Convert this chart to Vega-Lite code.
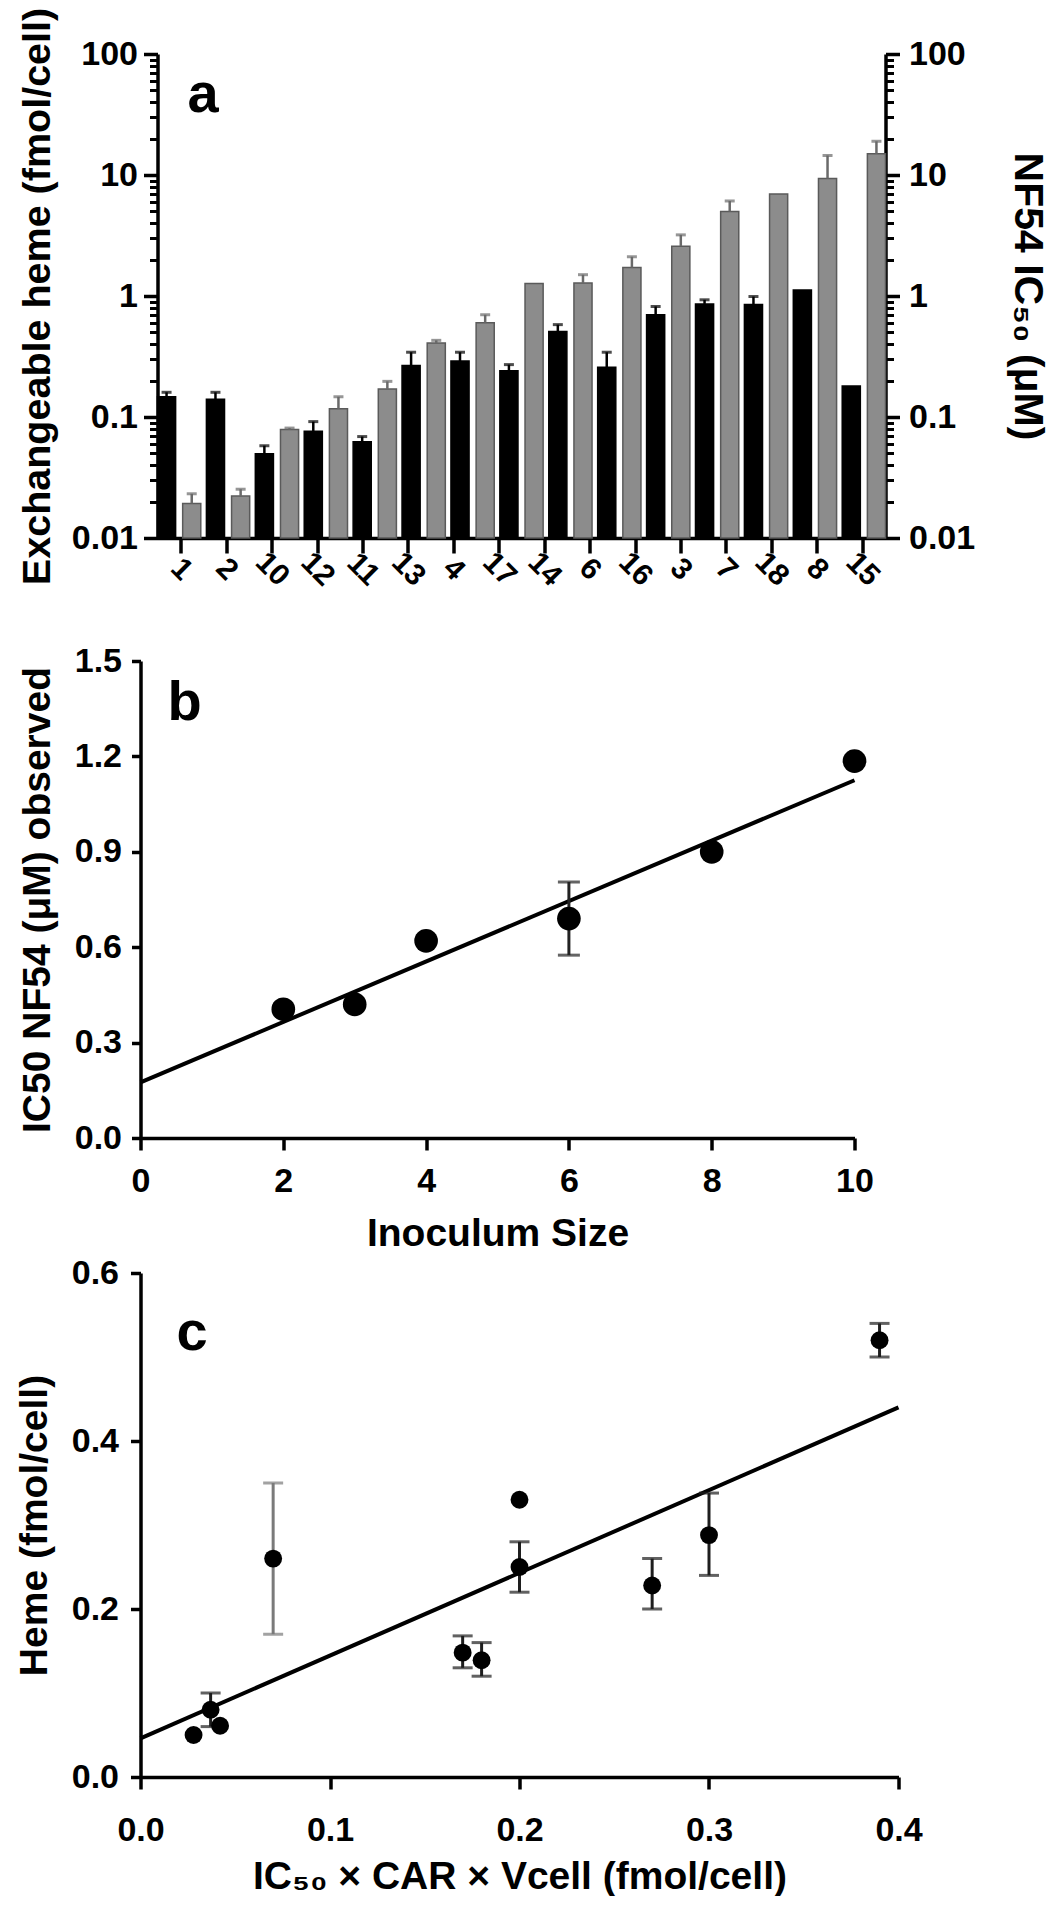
{
  "$schema": "https://vega.github.io/schema/vega-lite/v6.json",
  "background": "white",
  "padding": {"left": 14.5, "top": 7, "right": 0, "bottom": 0},
  "config": {
    "font": "Liberation Sans",
    "view": {"stroke": null},
    "axis": {
      "grid": false,
      "domainColor": "#000000",
      "domainWidth": 3.5,
      "tickColor": "#000000",
      "tickWidth": 3.5,
      "labelFont": "Liberation Sans",
      "labelFontWeight": "bold",
      "labelFontSize": 34,
      "labelColor": "#000000",
      "titleFont": "Liberation Sans",
      "titleFontWeight": "bold",
      "titleFontSize": 39,
      "titleColor": "#000000",
      "labelOverlap": false,
      "labelFlush": false,
      "labelBound": false
    },
    "title": {"font": "Liberation Sans", "fontWeight": "bold", "fontSize": 56, "color": "#000000", "anchor": "start", "frame": "group", "baseline": "alphabetic"}
  },
  "datasets": {
    "bars": [
      {"pair": 1, "s": "heme", "v": 0.147, "up": 0.16},
      {"pair": 1, "s": "ic50", "v": 0.0193, "up": 0.0232},
      {"pair": 2, "s": "heme", "v": 0.14, "up": 0.16},
      {"pair": 2, "s": "ic50", "v": 0.0222, "up": 0.0253},
      {"pair": 3, "s": "heme", "v": 0.0498, "up": 0.058},
      {"pair": 3, "s": "ic50", "v": 0.0789, "up": 0.081},
      {"pair": 4, "s": "heme", "v": 0.0763, "up": 0.0916},
      {"pair": 4, "s": "ic50", "v": 0.117, "up": 0.147},
      {"pair": 5, "s": "heme", "v": 0.0623, "up": 0.0689},
      {"pair": 5, "s": "ic50", "v": 0.17, "up": 0.197},
      {"pair": 6, "s": "heme", "v": 0.267, "up": 0.343},
      {"pair": 6, "s": "ic50", "v": 0.409, "up": 0.43},
      {"pair": 7, "s": "heme", "v": 0.29, "up": 0.343},
      {"pair": 7, "s": "ic50", "v": 0.601, "up": 0.7},
      {"pair": 8, "s": "heme", "v": 0.241, "up": 0.271},
      {"pair": 8, "s": "ic50", "v": 1.27, "up": null},
      {"pair": 9, "s": "heme", "v": 0.508, "up": 0.58},
      {"pair": 9, "s": "ic50", "v": 1.28, "up": 1.5},
      {"pair": 10, "s": "heme", "v": 0.258, "up": 0.343},
      {"pair": 10, "s": "ic50", "v": 1.72, "up": 2.11},
      {"pair": 11, "s": "heme", "v": 0.7, "up": 0.82},
      {"pair": 11, "s": "ic50", "v": 2.58, "up": 3.2},
      {"pair": 12, "s": "heme", "v": 0.86, "up": 0.93},
      {"pair": 12, "s": "ic50", "v": 5.0, "up": 6.1},
      {"pair": 13, "s": "heme", "v": 0.85, "up": 0.99},
      {"pair": 13, "s": "ic50", "v": 6.98, "up": null},
      {"pair": 14, "s": "heme", "v": 1.12, "up": null},
      {"pair": 14, "s": "ic50", "v": 9.35, "up": 14.5},
      {"pair": 15, "s": "heme", "v": 0.18, "up": null},
      {"pair": 15, "s": "ic50", "v": 15.0, "up": 19.0}
    ],
    "labs": [
      {"lab": "1"}, {"lab": "2"}, {"lab": "10"}, {"lab": "12"}, {"lab": "11"}, {"lab": "13"}, {"lab": "4"}, {"lab": "17"},
      {"lab": "14"}, {"lab": "6"}, {"lab": "16"}, {"lab": "3"}, {"lab": "7"}, {"lab": "18"}, {"lab": "8"}, {"lab": "15"}
    ],
    "inoc": [
      {"x": 2, "y": 0.405},
      {"x": 3, "y": 0.42},
      {"x": 4, "y": 0.62},
      {"x": 6, "y": 0.69, "lo": 0.575, "hi": 0.805},
      {"x": 8, "y": 0.9},
      {"x": 10, "y": 1.185}
    ],
    "fitb": [{"x": 0, "y": 0.175}, {"x": 10, "y": 1.125}],
    "heme": [
      {"x": 0.028, "y": 0.05},
      {"x": 0.037, "y": 0.08, "lo": 0.06, "hi": 0.1},
      {"x": 0.042, "y": 0.061},
      {"x": 0.07, "y": 0.26, "lo": 0.17, "hi": 0.35},
      {"x": 0.17, "y": 0.148, "lo": 0.13, "hi": 0.168},
      {"x": 0.18, "y": 0.139, "lo": 0.12, "hi": 0.16},
      {"x": 0.2, "y": 0.33},
      {"x": 0.2, "y": 0.25, "lo": 0.22, "hi": 0.28},
      {"x": 0.27, "y": 0.228, "lo": 0.2, "hi": 0.26},
      {"x": 0.3, "y": 0.288, "lo": 0.24, "hi": 0.338},
      {"x": 0.39, "y": 0.52, "lo": 0.5, "hi": 0.54}
    ],
    "fitc": [{"x": 0, "y": 0.046}, {"x": 0.4, "y": 0.44}]
  },
  "columns": 1,
  "align": "none",
  "spacing": 52,
  "concat": [
    {
      "width": 745,
      "height": 484,
      "title": {"text": "a", "offset": -117, "dx": 47},
      "resolve": {"scale": {"x": "independent", "y": "shared"}, "axis": {"x": "independent", "y": "independent"}},
      "layer": [
        {
          "data": {"name": "bars"},
          "mark": {"type": "bar", "strokeWidth": 1.5},
          "encoding": {
            "x": {"field": "pair", "type": "ordinal", "scale": {"domain": [1,2,3,4,5,6,7,8,9,10,11,12,13,14,15], "range": [17, 745], "paddingInner": 0.115, "paddingOuter": 0}, "axis": {"labels": false, "ticks": false, "title": null, "domain": true}},
            "xOffset": {"field": "s", "type": "nominal", "scale": {"domain": ["heme", "ic50"], "paddingInner": 0.28, "paddingOuter": 0}},
            "y": {"field": "v", "type": "quantitative", "scale": {"type": "log", "domain": [0.01, 100], "nice": false},
              "axis": {"orient": "left", "offset": -17, "values": [0.01, 0.1, 1, 10, 100], "format": "~g", "tickSize": 14, "labelPadding": 6,
                "title": "Exchangeable heme (fmol/cell)", "titleFontSize": 39.5, "titleAngle": -90, "titleX": -120, "titleY": 242, "titleAlign": "center", "titleBaseline": "middle"}},
            "y2": {"datum": 0.01},
            "fill": {"field": "s", "type": "nominal", "scale": {"domain": ["heme", "ic50"], "range": ["#000000", "#8c8c8c"]}, "legend": null},
            "stroke": {"field": "s", "type": "nominal", "scale": {"domain": ["heme", "ic50"], "range": ["#000000", "#5a5a5a"]}, "legend": null}
          }
        },
        {
          "data": {"name": "bars"},
          "transform": [{"filter": "isValid(datum.up)"}],
          "mark": {"type": "rule", "strokeWidth": 2.5},
          "encoding": {
            "x": {"field": "pair", "type": "ordinal", "scale": {"domain": [1,2,3,4,5,6,7,8,9,10,11,12,13,14,15], "range": [17, 745], "paddingInner": 0.115, "paddingOuter": 0}, "axis": null},
            "xOffset": {"field": "s", "type": "nominal", "scale": {"domain": ["heme", "ic50"], "paddingInner": 0.28, "paddingOuter": 0}},
            "y": {"field": "v", "type": "quantitative",
              "axis": {"orient": "right", "values": [0.01, 0.1, 1, 10, 100], "format": "~g", "tickSize": 14, "labelPadding": 9,
                "title": "NF54 IC₅₀ (μM)", "titleFontSize": 41, "titleAngle": 90, "titleX": 141, "titleY": 242, "titleAlign": "center", "titleBaseline": "middle"}},
            "y2": {"field": "up"},
            "color": {"field": "s", "type": "nominal", "scale": {"domain": ["heme", "ic50"], "range": ["#000000", "#6a6a6a"]}, "legend": null}
          }
        },
        {
          "data": {"name": "bars"},
          "transform": [{"filter": "isValid(datum.up)"}],
          "mark": {"type": "tick", "size": 10, "thickness": 3},
          "encoding": {
            "x": {"field": "pair", "type": "ordinal", "scale": {"domain": [1,2,3,4,5,6,7,8,9,10,11,12,13,14,15], "range": [17, 745], "paddingInner": 0.115, "paddingOuter": 0}, "axis": null},
            "xOffset": {"field": "s", "type": "nominal", "scale": {"domain": ["heme", "ic50"], "paddingInner": 0.28, "paddingOuter": 0}},
            "y": {"field": "up", "type": "quantitative",
              "axis": {"orient": "left", "offset": -17, "values": [0.02,0.03,0.04,0.05,0.06,0.07,0.08,0.09,0.2,0.3,0.4,0.5,0.6,0.7,0.8,0.9,2,3,4,5,6,7,8,9,20,30,40,50,60,70,80,90], "labels": false, "domain": false, "tickSize": 8, "tickWidth": 3, "title": null}},
            "color": {"field": "s", "type": "nominal", "legend": null}
          }
        },
        {
          "data": {"name": "labs"},
          "mark": {"type": "tick", "opacity": 0},
          "encoding": {
            "x": {"field": "lab", "type": "ordinal", "sort": null, "scale": {"type": "point", "range": [17, 745], "padding": 0.516},
              "axis": {"orient": "bottom", "domain": false, "tickSize": 15, "labelAngle": 45, "labelAlign": "center", "labelBaseline": "middle", "labelPadding": 16, "labelFontSize": 30, "title": null}},
            "y": {"datum": 1, "type": "quantitative",
              "axis": {"orient": "right", "values": [0.02,0.03,0.04,0.05,0.06,0.07,0.08,0.09,0.2,0.3,0.4,0.5,0.6,0.7,0.8,0.9,2,3,4,5,6,7,8,9,20,30,40,50,60,70,80,90], "labels": false, "domain": false, "tickSize": 8, "tickWidth": 3, "title": null}}
          }
        }
      ]
    },
    {
      "columns": 1,
      "align": "none",
      "spacing": 3,
      "concat": [
        {
          "width": 714,
          "height": 477,
          "title": {"text": "b", "offset": -88, "dx": 27},
          "layer": [
            {
              "data": {"name": "fitb"},
              "mark": {"type": "line", "color": "#000000", "strokeWidth": 4},
              "encoding": {
                "x": {"field": "x", "type": "quantitative", "title": "Inoculum Size", "scale": {"domain": [0, 10], "nice": false},
                  "axis": {"values": [0, 2, 4, 6, 8, 10], "format": "d", "tickSize": 12, "labelPadding": 14, "title": "Inoculum Size", "titlePadding": 16}},
                "y": {"field": "y", "type": "quantitative", "title": "IC50 NF54 (μM) observed", "scale": {"domain": [0, 1.5], "nice": false},
                  "axis": {"values": [0, 0.3, 0.6, 0.9, 1.2, 1.5], "format": ".1f", "tickSize": 9, "labelPadding": 10,
                    "title": "IC50 NF54 (μM) observed", "titleAngle": -90, "titleX": -103, "titleY": 238.5, "titleAlign": "center", "titleBaseline": "middle"}}
              }
            },
            {
              "data": {"name": "inoc"},
              "transform": [{"filter": "isValid(datum.lo)"}],
              "mark": {"type": "rule", "color": "#222222", "strokeWidth": 3},
              "encoding": {
                "x": {"field": "x", "type": "quantitative", "title": "Inoculum Size"},
                "y": {"field": "lo", "type": "quantitative", "title": "IC50 NF54 (μM) observed"},
                "y2": {"field": "hi"}
              }
            },
            {
              "data": {"name": "inoc"},
              "transform": [{"filter": "isValid(datum.lo)"}],
              "mark": {"type": "tick", "orient": "horizontal", "size": 22, "thickness": 3, "color": "#222222"},
              "encoding": {
                "x": {"field": "x", "type": "quantitative", "title": "Inoculum Size"},
                "y": {"field": "lo", "type": "quantitative", "title": "IC50 NF54 (μM) observed"}
              }
            },
            {
              "data": {"name": "inoc"},
              "transform": [{"filter": "isValid(datum.hi)"}],
              "mark": {"type": "tick", "orient": "horizontal", "size": 22, "thickness": 3, "color": "#222222"},
              "encoding": {
                "x": {"field": "x", "type": "quantitative", "title": "Inoculum Size"},
                "y": {"field": "hi", "type": "quantitative", "title": "IC50 NF54 (μM) observed"}
              }
            },
            {
              "data": {"name": "inoc"},
              "mark": {"type": "circle", "size": 560, "color": "#000000", "opacity": 1},
              "encoding": {
                "x": {"field": "x", "type": "quantitative", "title": "Inoculum Size"},
                "y": {"field": "y", "type": "quantitative", "title": "IC50 NF54 (μM) observed"}
              }
            }
          ]
        },
        {
          "width": 758,
          "height": 504,
          "title": {"text": "c", "offset": -106, "dx": 36},
          "layer": [
            {
              "data": {"name": "fitc"},
              "mark": {"type": "line", "color": "#000000", "strokeWidth": 4},
              "encoding": {
                "x": {"field": "x", "type": "quantitative", "title": "IC₅₀ × CAR × Vcell (fmol/cell)", "scale": {"domain": [0, 0.4], "nice": false},
                  "axis": {"values": [0, 0.1, 0.2, 0.3, 0.4], "format": ".1f", "tickSize": 12, "labelPadding": 24, "title": "IC₅₀ × CAR × Vcell (fmol/cell)", "titlePadding": 10}},
                "y": {"field": "y", "type": "quantitative", "title": "Heme (fmol/cell)", "scale": {"domain": [0, 0.6], "nice": false},
                  "axis": {"values": [0, 0.2, 0.4, 0.6], "format": ".1f", "tickSize": 10, "labelPadding": 12,
                    "title": "Heme (fmol/cell)", "titleAngle": -90, "titleX": -106, "titleY": 252, "titleAlign": "center", "titleBaseline": "middle"}}
              }
            },
            {
              "data": {"name": "heme"},
              "transform": [{"filter": "isValid(datum.lo)"}],
              "mark": {"type": "rule", "strokeWidth": 3},
              "encoding": {
                "x": {"field": "x", "type": "quantitative", "title": "IC₅₀ × CAR × Vcell (fmol/cell)"},
                "y": {"field": "lo", "type": "quantitative", "title": "Heme (fmol/cell)"},
                "y2": {"field": "hi"},
                "color": {"condition": {"test": "datum.x == 0.07", "value": "#7a7a7a"}, "value": "#1e1e1e"}
              }
            },
            {
              "data": {"name": "heme"},
              "transform": [{"filter": "isValid(datum.lo)"}],
              "mark": {"type": "tick", "orient": "horizontal", "size": 20, "thickness": 3},
              "encoding": {
                "x": {"field": "x", "type": "quantitative", "title": "IC₅₀ × CAR × Vcell (fmol/cell)"},
                "y": {"field": "lo", "type": "quantitative", "title": "Heme (fmol/cell)"},
                "color": {"condition": {"test": "datum.x == 0.07", "value": "#7a7a7a"}, "value": "#1e1e1e"}
              }
            },
            {
              "data": {"name": "heme"},
              "transform": [{"filter": "isValid(datum.hi)"}],
              "mark": {"type": "tick", "orient": "horizontal", "size": 20, "thickness": 3},
              "encoding": {
                "x": {"field": "x", "type": "quantitative", "title": "IC₅₀ × CAR × Vcell (fmol/cell)"},
                "y": {"field": "hi", "type": "quantitative", "title": "Heme (fmol/cell)"},
                "color": {"condition": {"test": "datum.x == 0.07", "value": "#7a7a7a"}, "value": "#1e1e1e"}
              }
            },
            {
              "data": {"name": "heme"},
              "mark": {"type": "circle", "size": 320, "color": "#000000", "opacity": 1},
              "encoding": {
                "x": {"field": "x", "type": "quantitative", "title": "IC₅₀ × CAR × Vcell (fmol/cell)"},
                "y": {"field": "y", "type": "quantitative", "title": "Heme (fmol/cell)"}
              }
            }
          ]
        }
      ]
    }
  ]
}
